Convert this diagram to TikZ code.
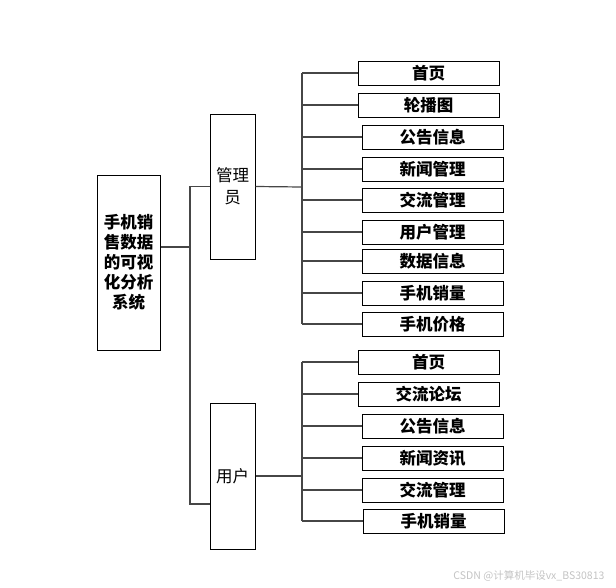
\documentclass[tikz,border=0pt]{standalone}
\usepackage{fontspec}
\usepackage{xcolor}
\usetikzlibrary{positioning, calc}
\newfontfamily\cjk{Noto Sans CJK SC}
\definecolor{linegray}{RGB}{70,70,70}
\definecolor{markgray}{RGB}{195,195,195}

\tikzset{
  leafbox/.style={draw=black, line width=1pt, minimum width=141pt, minimum height=24pt,
    inner sep=0pt, font=\cjk\bfseries\fontsize{16.5}{18}\selectfont},
  rolebox/.style={draw=black, line width=1pt, minimum width=45pt, inner sep=0pt,
    align=center, font=\cjk\fontsize{16.5}{22}\selectfont},
  link/.style={draw=linegray, line width=1.2pt}
}

\begin{document}
\begin{tikzpicture}[x=1pt, y=-1pt]
  \useasboundingbox (0,0) rectangle (616,587);

  % root and roles
  \node[draw=black, line width=1pt, minimum width=63pt, minimum height=175pt, inner sep=0pt,
    align=center, font=\cjk\bfseries\fontsize{16.5}{20}\selectfont]
    (root) at (128.5,262.5) {手机销\\售数据\\的可视\\化分析\\系统};
  \node[rolebox, minimum height=145pt] (admin) at (232.5,186.5) {管理\\员};
  \node[rolebox, minimum height=146pt] (user) at (232.5,476) {用户};

  % admin leaves
  \foreach \name/\x/\y/\txt in {a1/428.5/73/首页, a2/428.5/105/轮播图,
      a3/432.5/137/公告信息, a4/432.5/169/新闻管理, a5/432.5/200/交流管理,
      a6/432.5/232/用户管理, a7/432.5/261/数据信息, a8/432.5/293/手机销量,
      a9/432.5/324/手机价格}
    \node[leafbox] (\name) at (\x,\y) {\txt};

  % user leaves
  \foreach \name/\x/\y/\txt in {u1/428.5/362/首页, u2/428.5/394/交流论坛,
      u3/432.5/426/公告信息, u4/432.5/458/新闻资讯, u5/432.5/490/交流管理,
      u6/433.5/521/手机销量}
    \node[leafbox] (\name) at (\x,\y) {\txt};

  % root branches
  \coordinate (rbus) at (190,247);
  \coordinate (rlow) at (190,504);
  \draw[link] (root.east |- rbus) -- (rbus);
  \draw[link] (admin.west) -- (admin.west -| rbus) -- (rlow) -- (user.west |- rlow);

  % admin branches
  \coordinate (abus) at (302,187);
  \draw[link] (admin.east) -- (abus);
  \draw[link] (abus |- a1) -- (abus |- a9);
  \foreach \i in {1,...,9}
    \draw[link] (abus |- a\i) -- (a\i.west);

  % user branches
  \coordinate (ubus) at (302,476);
  \draw[link] (user.east) -- (ubus);
  \draw[link] (ubus |- u1) -- (ubus |- u6);
  \foreach \i in {1,...,6}
    \draw[link] (ubus |- u\i) -- (u\i.west);

  % watermark
  \node[markgray, anchor=east, font=\cjk\fontsize{10.5}{12}\selectfont] (mark) at (608,576)
    {CSDN @计算机毕设vx\_BS30813};
\end{tikzpicture}
\end{document}
